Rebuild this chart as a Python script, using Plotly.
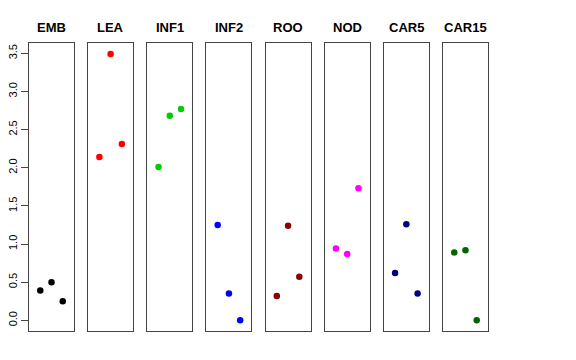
import plotly.graph_objects as go

tissues = ["EMB", "LEA", "INF1", "INF2", "ROO", "NOD", "CAR5", "CAR15"]
colors = ["#000000", "#FF0000", "#00CD00", "#0000FF", "#8B0000", "#FF00FF", "#000080", "#006400"]
positions = [1, 2, 3]
emb = [0.39, 0.50, 0.25]
lea = [2.14, 3.49, 2.31]
inf1 = [2.01, 2.68, 2.77]
inf2 = [1.25, 0.35, 0.00]
roo = [0.32, 1.24, 0.57]
nod = [0.94, 0.87, 1.73]
car5 = [0.62, 1.26, 0.35]
car15 = [0.89, 0.92, 0.00]
values = [emb, lea, inf1, inf2, roo, nod, car5, car15]
yticks = [0.0, 0.5, 1.0, 1.5, 2.0, 2.5, 3.0, 3.5]
yticktext = ["0.0", "0.5", "1.0", "1.5", "2.0", "2.5", "3.0", "3.5"]

W, H = 576, 360
fig = go.Figure()
font = dict(family="Liberation Sans, Arial, sans-serif", color="black")
ybot = (H - 331) / H
ytop = (H - 43) / H
layout = dict(
    width=W, height=H,
    margin=dict(l=0, r=0, t=0, b=0, autoexpand=False),
    plot_bgcolor="white", paper_bgcolor="white",
    showlegend=False,
    font=font,
)
annotations = []
for i, (name, col, vals) in enumerate(zip(tissues, colors, values)):
    sfx = "" if i == 0 else str(i + 1)
    left = 29 + 59.14 * i
    right = left + 45
    fig.add_trace(go.Scatter(
        x=positions, y=vals, mode="markers",
        marker=dict(color=col, size=6.5, line=dict(width=0)),
        xaxis="x" + sfx, yaxis="y" + sfx,
    ))
    layout["xaxis" + sfx] = dict(
        domain=[left / W, right / W], range=[0, 4],
        showticklabels=False, ticks="", showgrid=False, zeroline=False,
        showline=True, mirror=True, linecolor="#444444", linewidth=1,
        anchor="y" + sfx, fixedrange=True, automargin=False,
    )
    yax = dict(
        domain=[ybot, ytop], range=[-0.14, 3.635],
        showgrid=False, zeroline=False,
        showline=True, mirror=True, linecolor="#444444", linewidth=1,
        anchor="x" + sfx, fixedrange=True, automargin=False,
    )
    if i == 0:
        yax.update(tickvals=yticks, ticktext=yticktext, ticks="outside",
                   ticklen=7, tickcolor="#444444", tickangle=-90,
                   tickfont=dict(size=11, family=font["family"], color="black"))
    else:
        yax.update(showticklabels=False, ticks="")
    layout["yaxis" + sfx] = yax
    annotations.append(dict(
        text="<b>" + name + "</b>", x=(left + right) / 2 / W, y=(H - 28) / H,
        xref="paper", yref="paper", showarrow=False,
        xanchor="center", yanchor="middle",
        font=dict(size=13, family=font["family"], color="black"),
    ))
layout["annotations"] = annotations
fig.update_layout(**layout)
fig.write_html("out.html", config={"displayModeBar": False, "staticPlot": True},
               post_script="document.body.style.margin='0';document.body.style.overflow='hidden';")
